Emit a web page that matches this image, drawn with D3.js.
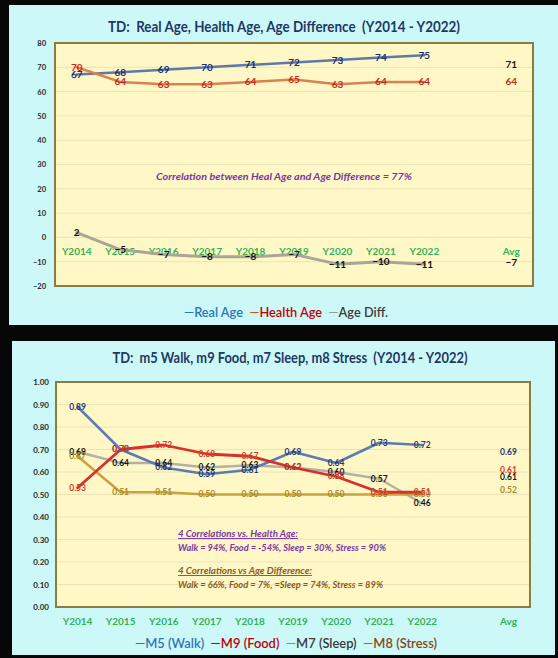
<!DOCTYPE html>
<html><head><meta charset="utf-8">
<script src="https://cdn.jsdelivr.net/npm/d3@7"></script>
<style>body{margin:0;background:#070707;overflow:hidden}svg{display:block}text{font-family:Lato,"DejaVu Sans",sans-serif;white-space:pre}</style>
</head><body>
<svg id="c" width="558" height="658"></svg>
<script>
// ---------- DATA ----------
const years = ["Y2014","Y2015","Y2016","Y2017","Y2018","Y2019","Y2020","Y2021","Y2022"];
const avgLabel = "Avg";

// Chart 1
const title1 = "TD:  Real Age, Health Age, Age Difference  (Y2014 - Y2022)";
const realAge   = [67,68,69,70,71,72,73,74,75];
const healthAge = [70,64,63,63,64,65,63,64,64];
const ageDiff   = [2,-5,-7,-8,-8,-7,-11,-10,-11];
const realAgeAvg = 71, healthAgeAvg = 64, ageDiffAvg = -7;
const yTicks1 = [-20,-10,0,10,20,30,40,50,60,70,80];
const series1Names = ["Real Age","Health Age","Age Diff."];
const note1 = "Correlation between Heal Age and Age Difference = 77%";

// Chart 2
const title2 = "TD:  m5 Walk, m9 Food, m7 Sleep, m8 Stress  (Y2014 - Y2022)";
const walk   = [0.89,0.70,0.62,0.59,0.61,0.69,0.64,0.73,0.72];
const food   = [0.53,0.70,0.72,0.68,0.67,0.62,0.58,0.51,0.51];
const sleep  = [0.69,0.64,0.64,0.62,0.63,0.62,0.60,0.57,0.46];
const stress = [0.67,0.51,0.51,0.50,0.50,0.50,0.50,0.50,0.50];
const walkAvg = 0.69, foodAvg = 0.61, sleepAvg = 0.61, stressAvg = 0.52;
const yTicks2 = [0,0.1,0.2,0.3,0.4,0.5,0.6,0.7,0.8,0.9,1.0];
const series2Names = ["M5 (Walk)","M9 (Food)","M7 (Sleep)","M8 (Stress)"];
const note2a = ["4 Correlations vs. Health Age:","Walk = 94%, Food = -54%, Sleep = 30%, Stress = 90%"];
const note2b = ["4 Correlations vs Age Difference:","Walk = 66%, Food = 7%, =Sleep = 74%, Stress = 89%"];

// ---------- DRAW ----------
const svg = d3.select("#c");
const W = 558, H = 658;
svg.append("rect").attr("width",W).attr("height",H).attr("fill","#070707");

const panelFill = "#cdf8f8", plotFill = "#fff8c6", plotStroke = "#8b7b45", gridCol = "#ebe3b8";
const green = "#34b257";
const xDomain = [...years, " ", avgLabel];

function fit(sel, w){ sel.attr("textLength", w).attr("lengthAdjust","spacingAndGlyphs"); return sel; }

function drawChart(cfg){
  const g = svg.append("g");
  g.append("rect").attr("x",cfg.panel[0]).attr("y",cfg.panel[1]).attr("width",cfg.panel[2]).attr("height",cfg.panel[3]).attr("fill",panelFill);
  const x = d3.scaleBand().domain(xDomain).range([cfg.left,cfg.right]);
  const y = d3.scaleLinear().domain(cfg.yDomain).range([cfg.bottom,cfg.top]);
  const cx = d => x(d) + x.bandwidth()/2;

  g.append("rect").attr("x",cfg.left).attr("y",cfg.top).attr("width",cfg.right-cfg.left).attr("height",cfg.bottom-cfg.top).attr("fill",plotFill);
  g.append("g").selectAll("line").data(cfg.yTicks.slice(1,-1)).join("line")
    .attr("x1",cfg.left).attr("x2",cfg.right).attr("y1",d=>y(d)).attr("y2",d=>y(d))
    .attr("stroke",gridCol).attr("stroke-width",1);
  g.append("rect").attr("x",cfg.left).attr("y",cfg.top).attr("width",cfg.right-cfg.left).attr("height",cfg.bottom-cfg.top)
    .attr("fill","none").attr("stroke",plotStroke).attr("stroke-width",2);

  // y axis
  const ya = g.append("g").attr("transform",`translate(${cfg.left},0)`)
    .call(d3.axisLeft(y).tickValues(cfg.yTicks).tickSize(0).tickPadding(cfg.yPad).tickFormat(cfg.yFmt));
  ya.select(".domain").remove();
  ya.selectAll("text").attr("font-size",cfg.yFs).attr("font-weight","bold").attr("fill","#2a2a2a").style("font-family","Lato");

  // x axis
  const xa = g.append("g").attr("transform",`translate(0,${y(cfg.xAxisAt)})`)
    .call(d3.axisBottom(x).tickSize(0).tickPadding(cfg.xPad));
  xa.select(".domain").remove();
  xa.selectAll("text").attr("font-size",10).attr("font-weight","bold").attr("fill",green).style("font-family","Lato");

  // lines
  const line = d3.line().x((d,i)=>cx(years[i])).y(d=>y(d));
  cfg.series.forEach(s=>{
    g.append("path").datum(s.values).attr("d",line).attr("fill","none")
      .attr("stroke",s.stroke).attr("stroke-width",s.sw).attr("stroke-linejoin","round").attr("stroke-linecap","round");
  });
  // labels
  cfg.series.forEach(s=>{
    const lab = g.append("g");
    lab.selectAll("text").data(s.values).join("text")
      .attr("x",(d,i)=>cx(years[i])).attr("y",d=>y(d)).attr("dy","0.35em")
      .attr("text-anchor","middle").attr("font-size",cfg.labFs).attr("font-weight","bold")
      .attr("fill",s.label).text(d=>cfg.labFmt(d));
    lab.append("text").attr("x",cx(avgLabel)).attr("y",y(s.avg)+(s.avgDy||0)).attr("dy","0.35em")
      .attr("text-anchor","middle").attr("font-size",cfg.labFs).attr("font-weight","bold")
      .attr("fill",s.avgCol||s.label).text(cfg.labFmt(s.avg));
  });

  // title
  fit(g.append("text").attr("x",cfg.titleX).attr("y",cfg.titleY).attr("text-anchor","middle")
    .attr("font-size",15).attr("font-weight","bold").attr("fill","#1f3864").text(cfg.title), cfg.titleW);

  // legend
  const lt = g.append("text").attr("x",cfg.legX).attr("y",cfg.legY).attr("text-anchor","middle")
    .attr("font-size",14).attr("font-weight","600");
  cfg.legend.forEach((n,i)=>{
    lt.append("tspan").attr("fill",cfg.legDash[i]).text((i?"  ":"")+"\u2014");
    lt.append("tspan").attr("fill",cfg.legCols[i]).text(n);
  });
  fit(lt, cfg.legW);
  return {g,x,y};
}

// Chart 1
const c1 = drawChart({
  panel:[9,5,549,320], left:55, right:533, top:43, bottom:286,
  yDomain:[-20,80], yTicks:yTicks1, yFmt:d3.format("d"), yFs:7.5, yPad:9,
  xAxisAt:0, xPad:11, labFs:10, labFmt:d3.format("d"),
  series:[
    {values:realAge, avg:realAgeAvg, stroke:"#5d78ad", sw:2.5, label:"#1f2f6e", avgCol:"#1a1a1a"},
    {values:healthAge, avg:healthAgeAvg, stroke:"#d98250", sw:2.5, label:"#c8281e"},
    {values:ageDiff, avg:ageDiffAvg, stroke:"#aaa596", sw:3, label:"#111111", avgDy:8}
  ],
  title:title1, titleX:284, titleY:32, titleW:352,
  legend:series1Names, legDash:["#2e75b6","#d0502a","#9a9a9a"], legCols:["#2e75b6","#c00000","#3a3a3a"],
  legX:286, legY:317, legW:204
});
c1.g.append("text").attr("x",284).attr("y",180).attr("text-anchor","middle").attr("font-size",10)
  .attr("font-style","italic").attr("font-weight","bold").attr("fill","#7a35a5").text(note1)
  .call(s=>fit(s,256));

// Chart 2
const c2 = drawChart({
  panel:[12,341,543,314], left:56, right:530, top:382, bottom:607,
  yDomain:[0,1], yTicks:yTicks2, yFmt:d3.format(".2f"), yFs:8, yPad:7,
  xAxisAt:0, xPad:11, labFs:8.5, labFmt:d3.format(".2f"),
  series:[
    {values:sleep, avg:sleepAvg, stroke:"#b3b0a6", sw:2.5, label:"#151515", avgDy:7},
    {values:stress, avg:stressAvg, stroke:"#c9a23e", sw:2.5, label:"#a88a2a"},
    {values:walk, avg:walkAvg, stroke:"#5b7bb3", sw:2.5, label:"#1f3a78"},
    {values:food, avg:foodAvg, stroke:"#d8302a", sw:2.8, label:"#d0402e"}
  ],
  title:title2, titleX:290, titleY:363, titleW:355,
  legend:series2Names, legDash:["#2e75b6","#c00000","#8a8a8a","#a0702a"], legCols:["#2e75b6","#c00000","#3a3a3a","#8b4513"],
  legX:286, legY:648, legW:302
});
const notes = c2.g.append("g").attr("font-size",9.5).attr("font-style","italic").attr("font-weight","bold");
const noteRows = [
  {t:note2a[0], y:537, c:"#7a35a5", u:true, w:120},
  {t:note2a[1], y:551, c:"#7a35a5", u:false, w:208},
  {t:note2b[0], y:574, c:"#8b5a1e", u:true, w:134},
  {t:note2b[1], y:588, c:"#8b5a1e", u:false, w:205}
];
noteRows.forEach(r=>{
  notes.append("text").attr("x",178).attr("y",r.y).attr("fill",r.c)
    .attr("text-decoration",r.u?"underline":null).text(r.t).call(s=>fit(s,r.w));
});
</script>
</body></html>
